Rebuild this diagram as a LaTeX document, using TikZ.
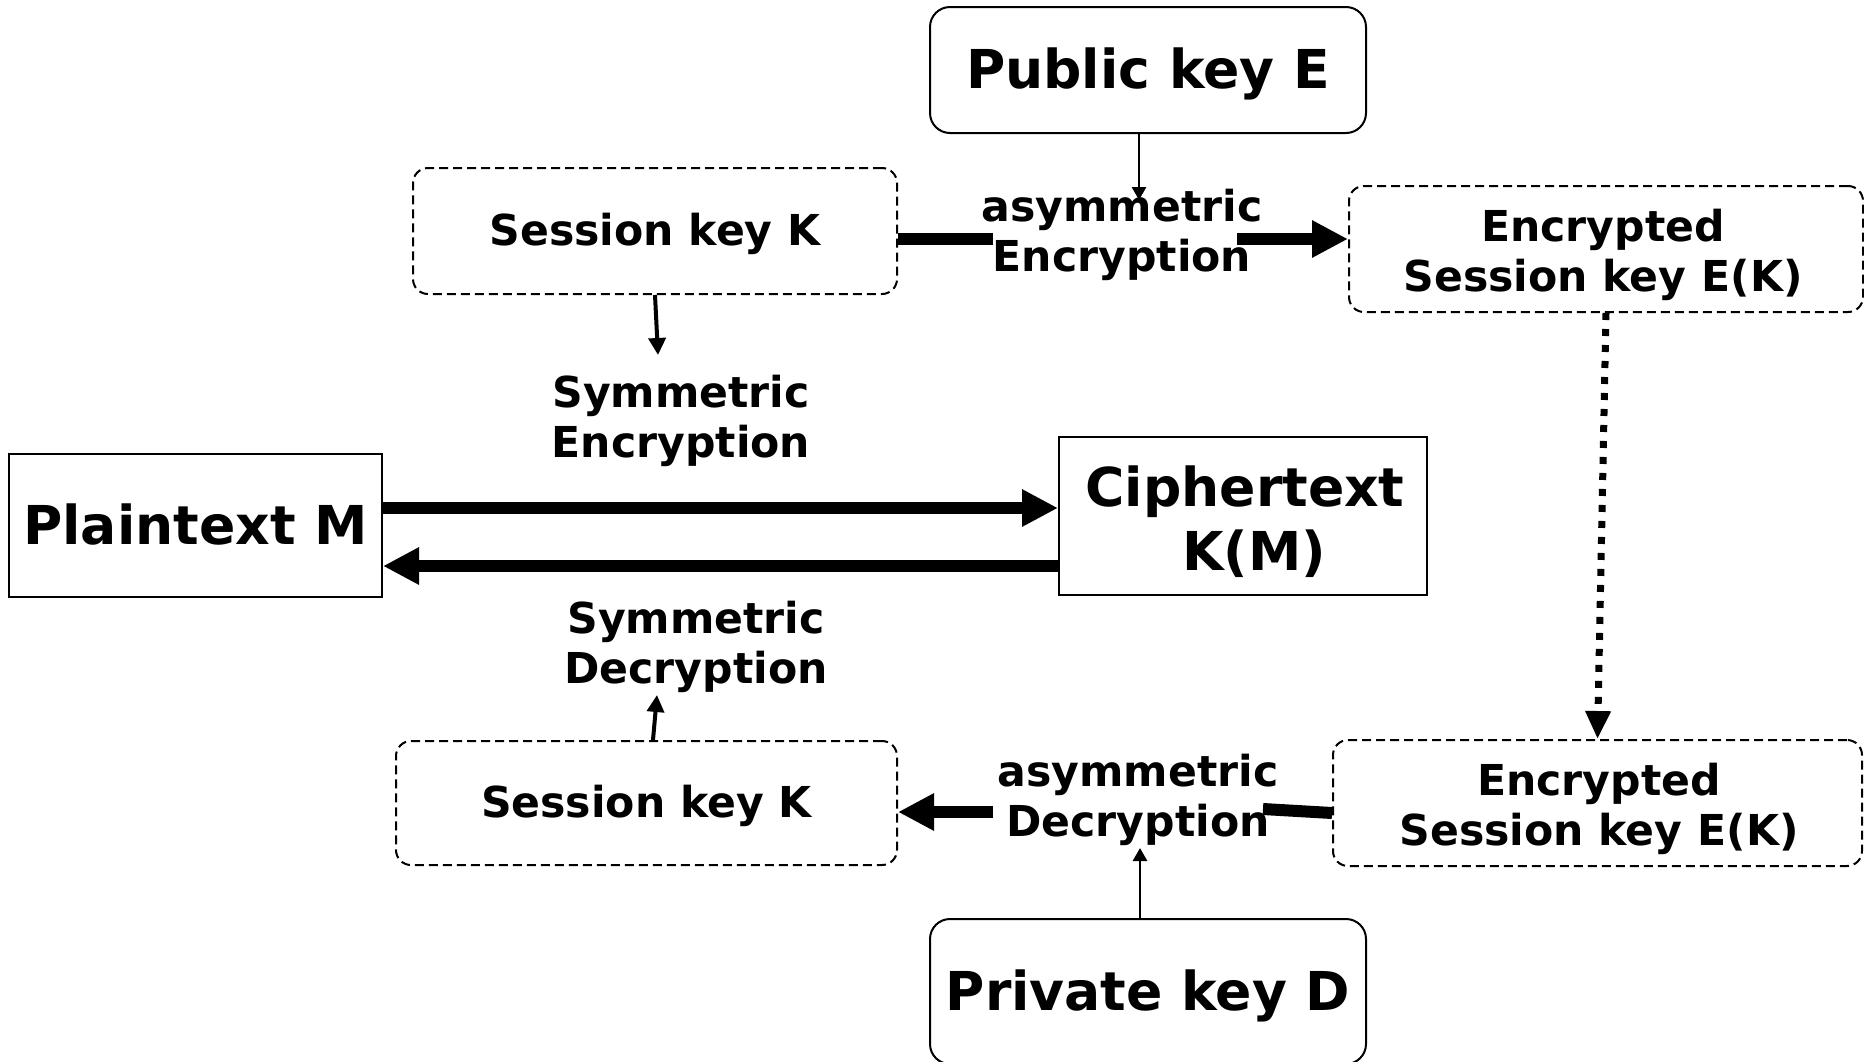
\documentclass[tikz,border=0pt]{standalone}
\usepackage{fontspec}
\setmainfont{DejaVu Sans}
\usetikzlibrary{arrows.meta}
\begin{document}
\begin{tikzpicture}[x=0.5pt,y=-0.5pt,
  bigfont/.style={font=\fontsize{26.8pt}{32pt}\selectfont\bfseries},
  smallfont/.style={font=\fontsize{21.3pt}{25pt}\selectfont\bfseries},
  bigone/.style={bigfont, text height=18.7pt, text depth=0pt},
  smallone/.style={smallfont, text height=14.9pt, text depth=0pt},
  keybox/.style={draw, line width=1pt, rounded corners=10pt, inner sep=0pt},
  dashbox/.style={draw, line width=1pt, rounded corners=7.5pt, dash pattern=on 4.5pt off 2.5pt, inner sep=0pt},
  plainbox/.style={draw, line width=1pt, inner sep=0pt},
  lbl/.style={smallfont, align=center, inner sep=0pt},
  heavy/.style={line width=6pt},
  heavyarrow/.style={line width=6pt, -{Triangle[length=18pt,width=17.5pt]}},
  slimarrow/.style={line width=1.4pt, -{Triangle[length=6.5pt,width=7pt]}},
  midarrow/.style={line width=2pt, -{Triangle[length=8.5pt,width=8.5pt]}},
  dotarrow/.style={line width=3.5pt, dash pattern=on 3.5pt off 4.5pt, -{Triangle[length=14pt,width=12pt]}},
]
\useasboundingbox (0,0) rectangle (1864,1061);

% boxes
\node[keybox, bigone, minimum width=218pt, minimum height=63pt] (pub) at (1148,70) {Public key E};
\node[dashbox, smallone, minimum width=242pt, minimum height=63pt] (sk1) at (655,231) {Session key K};
\node[dashbox, minimum width=257pt, minimum height=63pt] (enc1) at (1606,249) {};
\node[lbl] (enc1txt) at (1603,255) {Encrypted\\Session key E(K)};
\node[plainbox, bigone, minimum width=186.5pt, minimum height=71.5pt] (plain) at (195.5,525.5) {Plaintext M};
\node[plainbox, minimum width=184pt, minimum height=79pt] (cipher) at (1243,516) {};
\node[bigfont, align=center, inner sep=0pt] (ciphertxt) at (1245,522) {Ciphertext\\\hspace*{9pt}K(M)};
\node[dashbox, smallone, minimum width=250.5pt, minimum height=62pt] (sk2) at (646.5,803) {Session key K};
\node[dashbox, minimum width=264.5pt, minimum height=63pt] (enc2) at (1597.5,803) {};
\node[lbl] (enc2txt) at (1599,809) {Encrypted\\Session key E(K)};
\node[keybox, bigone, minimum width=218pt, minimum height=72.5pt] (priv) at (1148,991.5) {Private key D};

% operation labels
\node[lbl] (ae) at (1122,235) {asymmetric\\Encryption};
\node[lbl] (se) at (681,421) {Symmetric\\Encryption};
\node[lbl] (sd) at (696,647) {Symmetric\\Decryption};
\node[lbl] (ad) at (1138,800) {asymmetric\\Decryption};

% connector end points
\coordinate (aeL) at (993,239);
\coordinate (aeR) at (1237,239);
\coordinate (aetop) at (1139,200);
\coordinate (setop) at (658,355);
\coordinate (rowA) at (0,508);
\coordinate (rowB) at (0,566);
\coordinate (sdbot) at (657,695);
\coordinate (adR) at (1263,809);
\coordinate (adL) at (993,812);
\coordinate (adbot) at (1140,848);

% asymmetric encryption of the session key
\draw[heavy] (sk1.east |- aeL) -- (aeL);
\draw[heavyarrow] (aeR) -- (enc1.west |- aeR);
\draw[slimarrow] (pub.south -| aetop) -- (aetop);

% symmetric encryption / decryption
\draw[midarrow] (sk1.south) -- (setop);
\draw[heavyarrow] (plain.east |- rowA) -- (cipher.west |- rowA);
\draw[heavyarrow] (cipher.west |- rowB) -- (plain.east |- rowB);
\draw[midarrow] ([xshift=3.25pt]sk2.north) -- (sdbot);

% transfer of the encrypted session key
\draw[dotarrow] (enc1.south) -- (enc2.north);

% asymmetric decryption of the session key
\draw[heavy] ([yshift=-5pt]enc2.west) -- (adR);
\draw[heavyarrow] (adL) -- (sk2.east |- adL);
\draw[slimarrow] (priv.north -| adbot) -- (adbot);
\end{tikzpicture}
\end{document}
